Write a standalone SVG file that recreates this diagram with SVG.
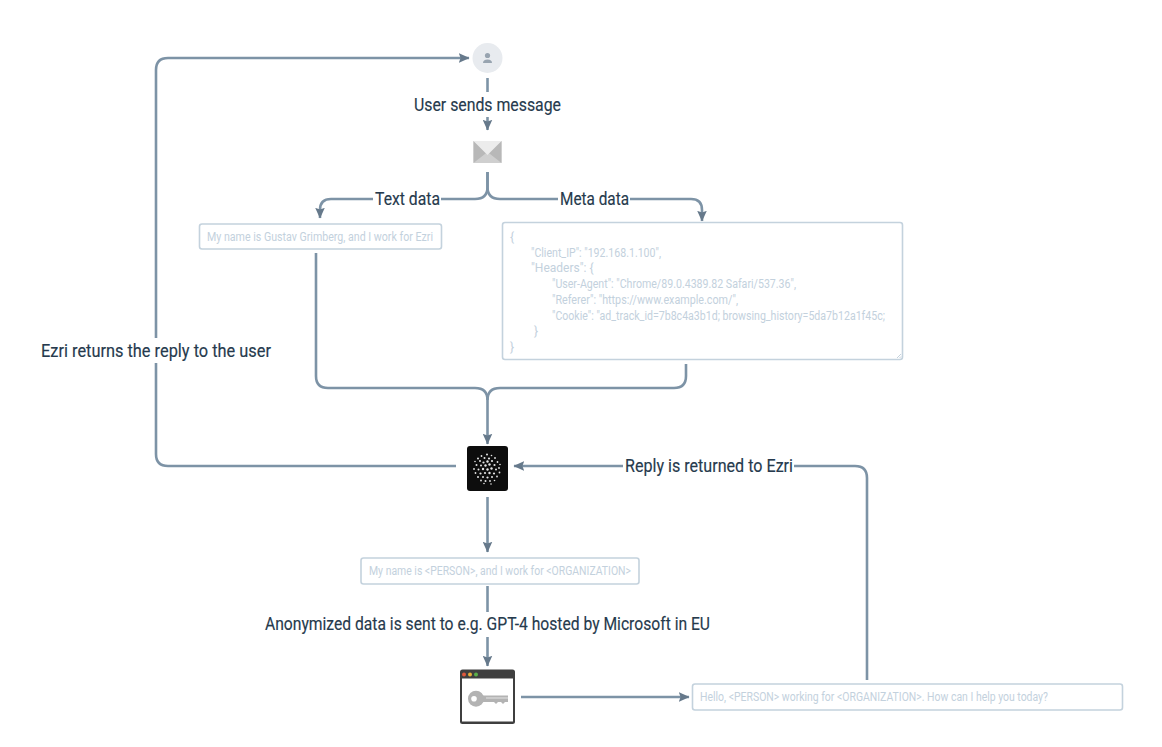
<svg xmlns="http://www.w3.org/2000/svg" width="1162" height="747" viewBox="0 0 1162 747">
<style>
.c{fill:none;stroke:#7d93a6;stroke-width:2.6}
.l{font:400 17.500px "Roboto","Liberation Sans",sans-serif;fill:#263a4d;stroke:#263a4d;stroke-width:.15}
.b{fill:#fff;stroke:#c4d2dd;stroke-width:1.6}
.t{font:12px "Roboto","Liberation Sans",sans-serif;fill:#c3d1dd}
.g{fill:#fff}
</style>
<defs>
<marker id="a" markerWidth="12" markerHeight="10" refX="8.500" refY="4" markerUnits="userSpaceOnUse" orient="auto" viewBox="0 0 10 8"><path d="M0 0L9 4L0 8L1.500 4Z" fill="#66798b"/></marker>
</defs>
<rect width="1162" height="747" fill="#fff"/>
<g id="connectors">
<path class="c" d="M487.500 78V94"/>
<path class="c" d="M487.500 115V130" marker-end="url(#a)"/>
<path class="c" d="M487.500 172V187Q487.500 199 475 199H331Q320 199 320 210V218" marker-end="url(#a)"/>
<path class="c" d="M487.500 172V187Q487.500 199 500 199H691Q702 199 702 210V221" marker-end="url(#a)"/>
<path class="c" d="M316 253V376Q316 388 328 388H475Q487.500 388 487.500 400V444" marker-end="url(#a)"/>
<path class="c" d="M686 364V376Q686 388 674 388H500Q487.500 388 487.500 400"/>
<path class="c" d="M456 466H168Q156 466 156 454V70Q156 58 168 58H469" marker-end="url(#a)"/>
<path class="c" d="M867 680V478Q867 466 855 466H514" marker-end="url(#a)"/>
<path class="c" d="M487.500 497V552" marker-end="url(#a)"/>
<path class="c" d="M487.500 586V666" marker-end="url(#a)"/>
<path class="c" d="M521 697H689" marker-end="url(#a)"/>
</g>
<g id="label-user-sends"><rect class="g" x="410" y="92" width="155" height="25"/><text class="l" x="414" y="110.500" textLength="147" lengthAdjust="spacingAndGlyphs">User sends message</text></g>
<g id="label-text-data"><rect class="g" x="373" y="189" width="68" height="20"/><text class="l" x="375" y="204.500" textLength="65" lengthAdjust="spacingAndGlyphs">Text data</text></g>
<g id="label-meta-data"><rect class="g" x="558" y="189" width="72" height="20"/><text class="l" x="560" y="204.500" textLength="69" lengthAdjust="spacingAndGlyphs">Meta data</text></g>
<g id="label-ezri-returns"><rect class="g" x="38" y="338" width="236" height="25"/><text class="l" x="41" y="357" textLength="230" lengthAdjust="spacingAndGlyphs">Ezri returns the reply to the user</text></g>
<g id="label-reply"><rect class="g" x="623" y="456" width="171" height="20"/><text class="l" x="625" y="472" textLength="168" lengthAdjust="spacingAndGlyphs">Reply is returned to Ezri</text></g>
<g id="label-anonymized"><rect class="g" x="262" y="612" width="451" height="25"/><text class="l" x="265" y="630" textLength="445" lengthAdjust="spacingAndGlyphs">Anonymized data is sent to e.g. GPT-4 hosted by Microsoft in EU</text></g>
<g id="user"><circle cx="487.500" cy="58" r="15" fill="#e8ebef"/><circle cx="487.500" cy="55.500" r="2.600" fill="#98a4b0"/><path d="M483 63Q483 59.500 487.500 59.500T492 63Z" fill="#98a4b0"/></g>
<g id="envelope"><rect x="473.500" y="141" width="28" height="22" fill="#cfcfcf"/><path d="M473.500 141V163L487.500 152ZM501.500 141V163L487.500 152Z" fill="#b8b8b8"/><path d="M473.500 141H501.500L487.500 155Z" fill="#ececec"/></g>
<g id="box-text"><rect class="b" x="199.500" y="224" width="242" height="25" rx="2.500"/><text class="t" x="207" y="240.500" textLength="226" lengthAdjust="spacingAndGlyphs">My name is Gustav Grimberg, and I work for Ezri</text></g>
<g id="box-meta"><rect class="b" x="502.500" y="222.500" width="400" height="137" rx="2.500"/>
<text class="t"><tspan x="510" y="240.500">{</tspan><tspan x="531" y="256.500" textLength="130" lengthAdjust="spacingAndGlyphs">"Client_IP": "192.168.1.100",</tspan><tspan x="531" y="272">"Headers":  {</tspan><tspan x="552" y="288" textLength="244" lengthAdjust="spacingAndGlyphs">"User-Agent": "Chrome/89.0.4389.82 Safari/537.36",</tspan><tspan x="552" y="303.500" textLength="186" lengthAdjust="spacingAndGlyphs">"Referer": "https://www.example.com/",</tspan><tspan x="552" y="319.500" textLength="333" lengthAdjust="spacingAndGlyphs">"Cookie": "ad_track_id=7b8c4a3b1d; browsing_history=5da7b12a1f45c;</tspan><tspan x="534" y="335">}</tspan><tspan x="510" y="351">}</tspan></text>
<path d="M897 358L901 354M899.500 358L901 356.500" stroke="#c4d2dd" fill="none"/></g>
<g id="ezri"><rect x="467" y="446" width="41" height="45" rx="3" fill="#0d0d0d"/>
<g fill="#e4e4e4"><circle cx="487" cy="454.500" r="1"/><circle cx="481.500" cy="456" r=".9"/><circle cx="491.500" cy="455.500" r=".8"/><circle cx="478" cy="458.500" r="1"/><circle cx="484.500" cy="458" r="1"/><circle cx="489" cy="458.500" r="1.100"/><circle cx="495" cy="458" r=".9"/><circle cx="475" cy="461.500" r=".8"/><circle cx="480" cy="461" r="1"/><circle cx="483.500" cy="462.500" r="1.100"/><circle cx="487.500" cy="461.500" r="1.200"/><circle cx="492" cy="461" r="1.100"/><circle cx="497.500" cy="462" r=".9"/><circle cx="500" cy="464.500" r=".8"/><circle cx="476.500" cy="465" r="1"/><circle cx="481" cy="465.500" r="1"/><circle cx="485.500" cy="465.500" r="1.200"/><circle cx="489.500" cy="464.500" r="1.200"/><circle cx="494.500" cy="465" r="1.100"/><circle cx="499" cy="468" r=".9"/><circle cx="474" cy="469" r=".9"/><circle cx="478.500" cy="469.500" r="1"/><circle cx="483" cy="469" r="1.200"/><circle cx="487.500" cy="469.500" r="1.200"/><circle cx="491.500" cy="468.500" r="1.200"/><circle cx="496" cy="469.500" r="1"/><circle cx="475.500" cy="473" r=".9"/><circle cx="480.500" cy="473.500" r="1.100"/><circle cx="485" cy="473" r="1.100"/><circle cx="489.500" cy="473" r="1.200"/><circle cx="494" cy="473.500" r="1.100"/><circle cx="499.500" cy="472.500" r=".9"/><circle cx="478" cy="477" r="1"/><circle cx="483" cy="477" r="1"/><circle cx="487.500" cy="477.500" r="1.100"/><circle cx="492" cy="477" r="1"/><circle cx="497" cy="476.500" r=".9"/><circle cx="481" cy="480.500" r=".9"/><circle cx="485.500" cy="481" r="1"/><circle cx="490" cy="481" r=".9"/><circle cx="494.500" cy="480.500" r=".8"/><circle cx="484" cy="483.500" r=".8"/><circle cx="491" cy="484" r=".8"/></g></g>
<g id="box-anon"><rect class="b" x="361" y="558" width="278" height="26" rx="2.500"/><text class="t" x="369" y="575" textLength="262" lengthAdjust="spacingAndGlyphs">My name is &lt;PERSON&gt;, and I work for &lt;ORGANIZATION&gt;</text></g>
<g id="key-window"><rect x="460" y="669.500" width="55" height="54.500" rx="2.500" fill="#3f3f3f"/><rect x="462" y="678.500" width="51" height="43" fill="#fff"/><circle cx="464" cy="674.500" r="2" fill="#e0583c"/><circle cx="470" cy="674.500" r="2" fill="#e8b03a"/><circle cx="476" cy="674.500" r="2" fill="#5bb04a"/><path d="M480 695.500H508V702H505L503 704L501 702H498L496 704L494 702H480Z" fill="#b3b3b3"/><path d="M486 698H508" stroke="#e4e4e4" fill="none"/><circle cx="476" cy="698.700" r="8" fill="#b3b3b3"/><circle cx="474" cy="698.700" r="2.800" fill="#fff"/></g>
<g id="box-reply"><rect class="b" x="692.500" y="684" width="430" height="26" rx="2.500"/><text class="t" x="700" y="701" textLength="348" lengthAdjust="spacingAndGlyphs">Hello, &lt;PERSON&gt; working for &lt;ORGANIZATION&gt;. How can I help you today?</text></g>
</svg>
